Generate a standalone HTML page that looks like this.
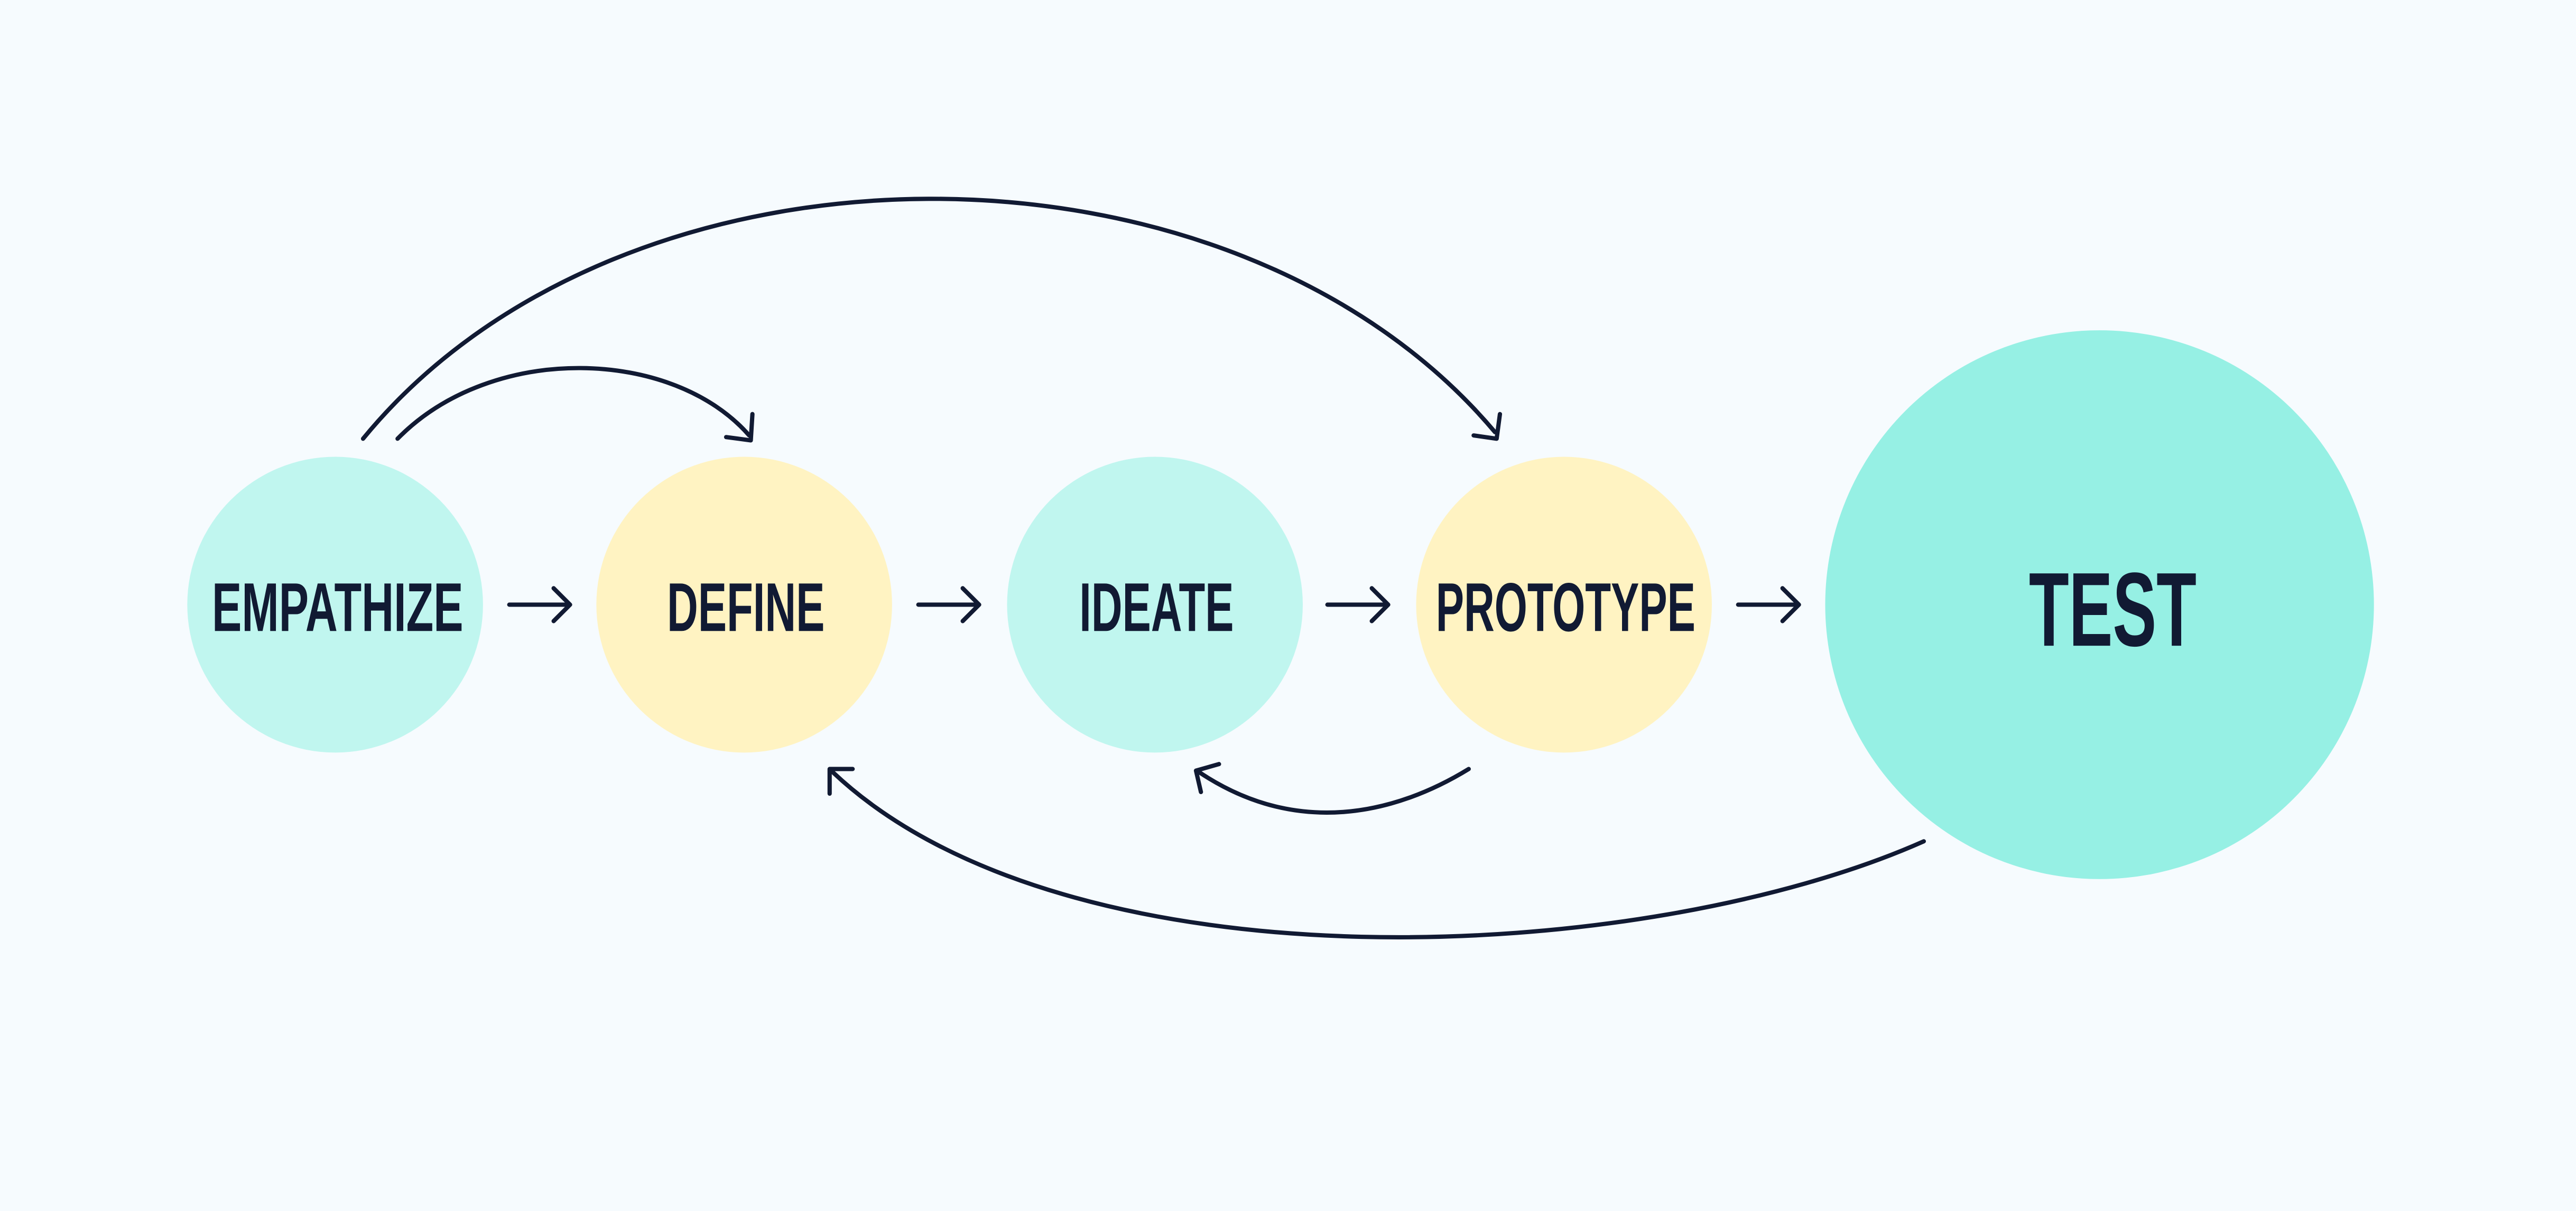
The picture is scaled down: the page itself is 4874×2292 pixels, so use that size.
<!DOCTYPE html>
<html>
<head>
<meta charset="utf-8">
<style>
html,body{margin:0;padding:0;background:#f6fbfe;}
svg{display:block;}
</style>
</head>
<body>
<svg width="4874" height="2292" viewBox="0 0 1568 737" preserveAspectRatio="none" xmlns="http://www.w3.org/2000/svg">
<rect width="1568" height="737" fill="#f6fbfe"/>
<circle cx="204" cy="368" r="90" fill="#c0f6ef"/>
<circle cx="453" cy="368" r="90" fill="#fff3c2"/>
<circle cx="703" cy="368" r="90" fill="#c0f6ef"/>
<circle cx="952" cy="368" r="90" fill="#fff3c2"/>
<circle cx="1278" cy="368" r="167" fill="#96f0e4"/>
<g font-family="Liberation Sans, sans-serif" font-weight="700" fill="#111a33" font-size="42">
<text x="129" y="384" textLength="153" lengthAdjust="spacingAndGlyphs">EMPATHIZE</text>
<text x="406" y="384" textLength="96" lengthAdjust="spacingAndGlyphs">DEFINE</text>
<text x="657" y="384" textLength="94" lengthAdjust="spacingAndGlyphs">IDEATE</text>
<text x="874" y="384" textLength="158" lengthAdjust="spacingAndGlyphs">PROTOTYPE</text>
<text x="1235" y="393" font-size="64" textLength="102" lengthAdjust="spacingAndGlyphs">TEST</text>
</g>
<g fill="none" stroke="#111a33" stroke-width="2.6" stroke-linecap="round" stroke-linejoin="round">
<path d="M310,368 H347 M337,358 L347,368 L337,378"/>
<path d="M559,368 H596 M586,358 L596,368 L586,378"/>
<path d="M808,368 H845 M835,358 L845,368 L835,378"/>
<path d="M1058,368 H1095 M1085,358 L1095,368 L1085,378"/>
<path d="M221,267 C380,73 750,73 910,263"/>
<path d="M913,252 L911,267 L897,265"/>
<path d="M242,267 C300,208 410,212 456,265"/>
<path d="M458,252 L457,268 L442,266"/>
<path d="M894,468 C850,495 790,510 730,470"/>
<path d="M742,465 L728,469 L731,482"/>
<path d="M1171,512 C1000,588 650,605 507,470"/>
<path d="M505,483 L505,468 L519,468"/>
</g>
</svg>
</body>
</html>
